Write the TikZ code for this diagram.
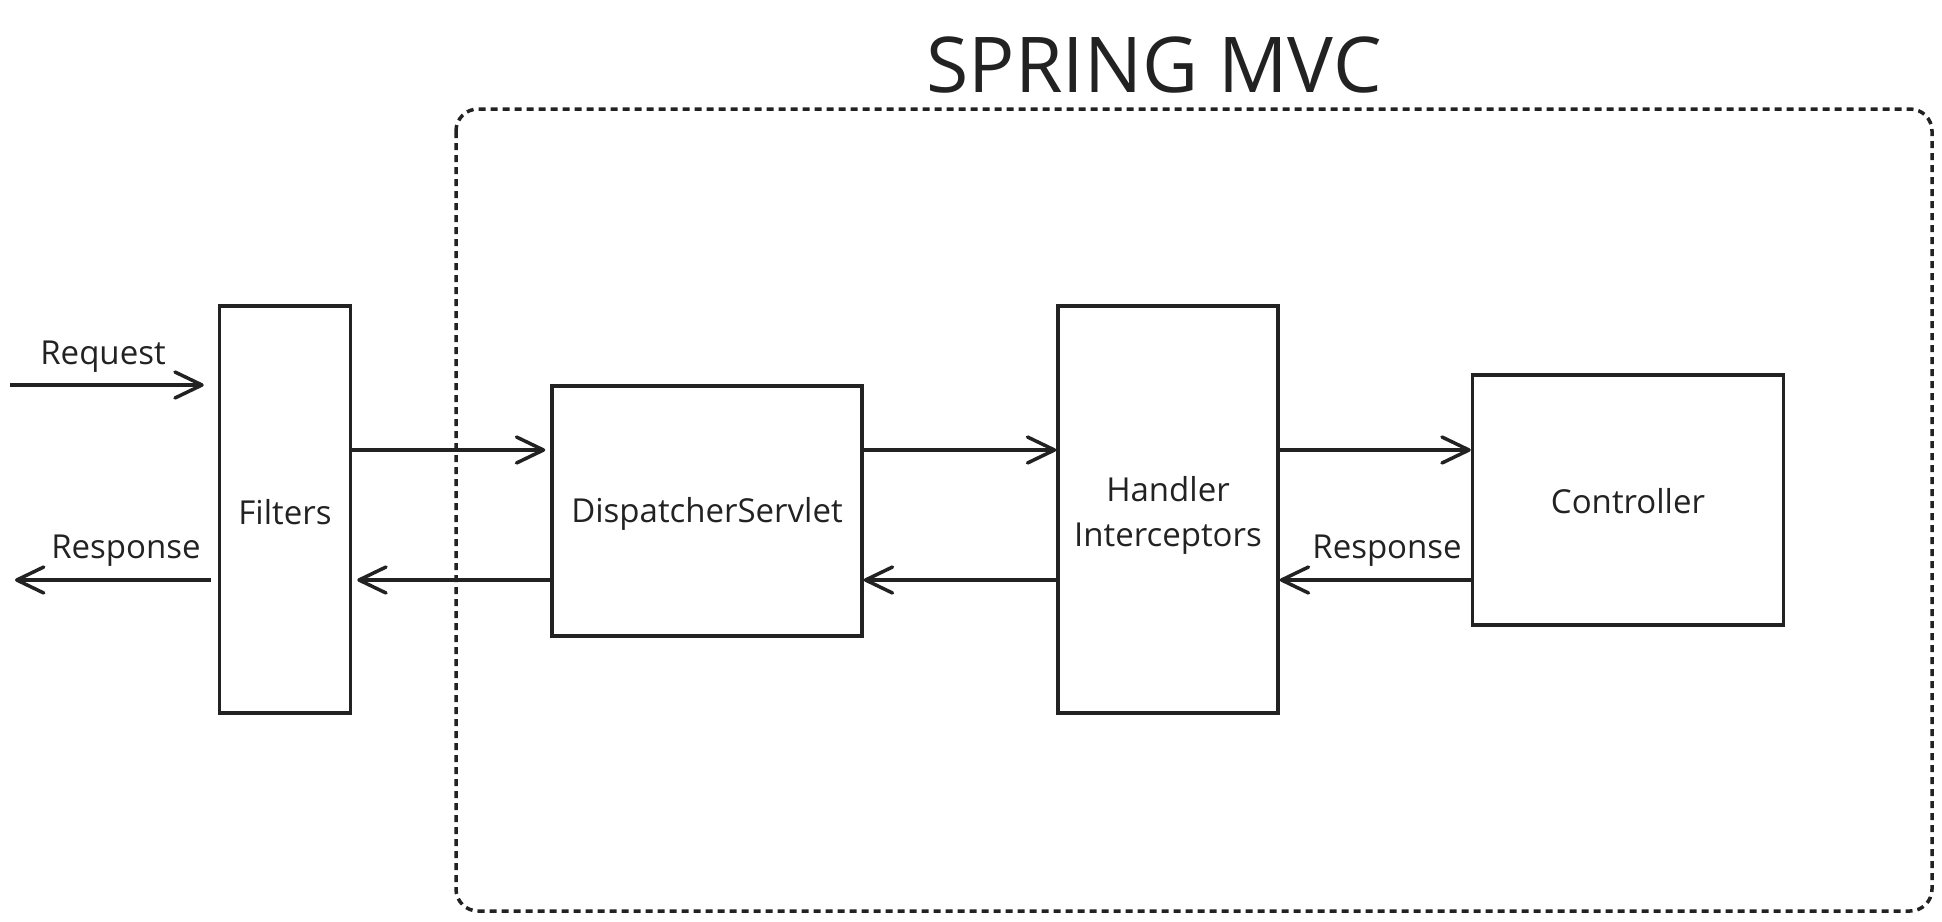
\documentclass[tikz,border=0pt]{standalone}
\usepackage{fontspec}
\setmainfont{Open Sans}
\usetikzlibrary{arrows.meta}
\definecolor{ink}{HTML}{222222}
\tikzset{
  box/.style={draw=ink, line width=3.5pt, inner sep=0pt},
  arr/.style={draw=ink, line width=3.5pt, -{Straight Barb[length=27pt,width=26pt,line cap=round,line join=round]}},
  lbl/.style={text=ink, font=\fontsize{33}{45}\selectfont, inner sep=0pt, align=center}
}
\begin{document}
\begin{tikzpicture}[x=1pt,y=-1pt]
\useasboundingbox (0,0) rectangle (1942,921);
% dashed frame
\draw[ink, line width=3.5pt, dash pattern=on 7pt off 5pt, rounded corners=22pt] (456,109) rectangle (1932,911);
\node[text=ink, font=\fontsize{77}{80}\selectfont, inner sep=0pt] (title) at (1154,65) {SPRING MVC};
% boxes
\node[box, minimum width=131pt, minimum height=407pt] (F) at (285,509.5) {};
\node[box, minimum width=310pt, minimum height=250pt] (D) at (707,511) {};
\node[box, minimum width=220pt, minimum height=407pt] (H) at (1168,509.5) {};
\node[box, minimum width=311pt, minimum height=250pt] (C) at (1628,500) {};
% box texts
\node[lbl] (Ft) at ([yshift=-3pt]F.center) {Filters};
\node[lbl] (Dt) at ([yshift=-3pt]D.center) {DispatcherServlet};
\node[lbl] (Ht) at ([yshift=-6pt]H.center) {Handler\\Interceptors};
\node[lbl] (Ct) at ([yshift=-1pt]C.center) {Controller};
% reference rows
\coordinate (reqrow) at (0,385);
\coordinate (toprow) at (0,450);
\coordinate (botrow) at (0,580);
\coordinate (reqstart) at (10,385);
\coordinate (resend) at (15,580);
% arrows
\draw[arr, shorten >=14pt] (reqstart) -- (F.west |- reqrow);
\draw[arr, shorten <=7pt] (F.west |- botrow) -- (resend);
\draw[arr, shorten >=5pt] (F.east |- toprow) -- (D.west |- toprow);
\draw[arr, shorten >=5pt] (D.west |- botrow) -- (F.east |- botrow);
\draw[arr] (D.east |- toprow) -- (H.west |- toprow);
\draw[arr] (H.west |- botrow) -- (D.east |- botrow);
\draw[arr] (H.east |- toprow) -- (C.west |- toprow);
\draw[arr] (C.west |- botrow) -- (H.east |- botrow);
% labels
\node[lbl] (lreq) at (103,357) {Request};
\node[lbl] (lres) at (126,551) {Response};
\node[lbl] (lres2) at (1387,551) {Response};
\end{tikzpicture}
\end{document}
